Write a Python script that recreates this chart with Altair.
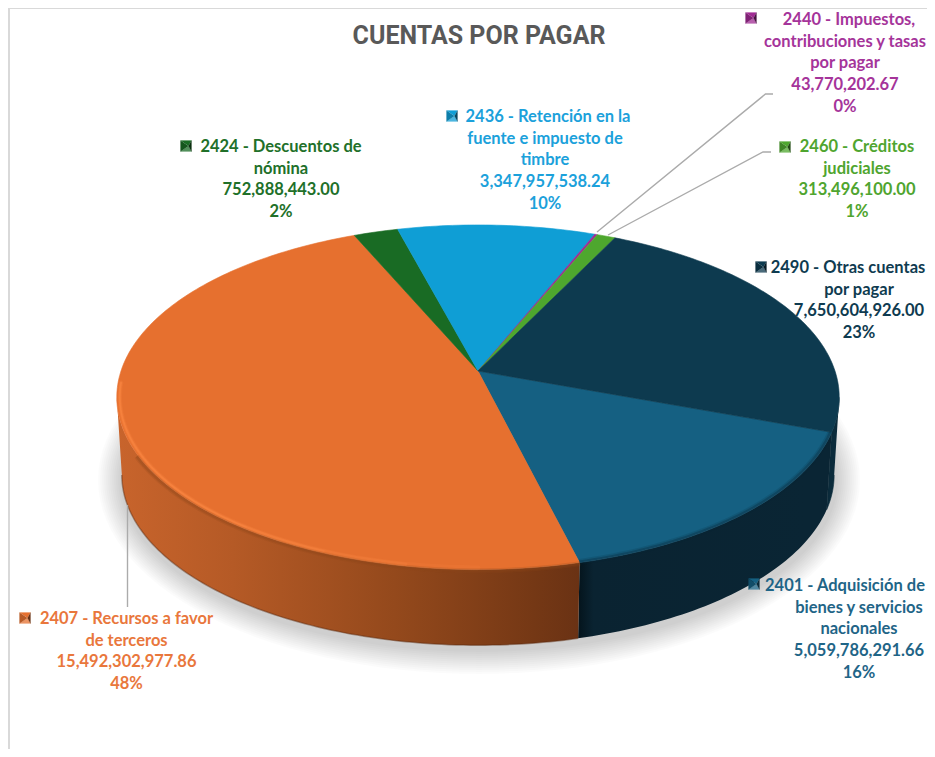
import math
import altair as alt
import pandas as pd

W, H = 919, 741
TITLE = "CUENTAS POR PAGAR"

# --- chart values, in the order the slices are drawn clockwise
codes = ["2401", "2407", "2424", "2436", "2440", "2460", "2490"]
amounts = [5059786291.66, 15492302977.86, 752888443.00, 3347957538.24,
           43770202.67, 313496100.00, 7650604926.00]
amount_text = ["5,059,786,291.66", "15,492,302,977.86", "752,888,443.00", "3,347,957,538.24",
               "43,770,202.67", "313,496,100.00", "7,650,604,926.00"]
percent_text = ["16%", "48%", "2%", "10%", "0%", "1%", "23%"]
names = [
    ["2401 - Adquisición de", "bienes y servicios", "nacionales"],
    ["2407 - Recursos a favor", "de terceros"],
    ["2424 - Descuentos de", "nómina"],
    ["2436 - Retención en la", "fuente e impuesto de", "timbre"],
    ["2440 - Impuestos,", "contribuciones y tasas", "por pagar"],
    ["2460 - Créditos", "judiciales"],
    ["2490 - Otras cuentas", "por pagar"],
]
top_colors = ["#156082", "#E6702F", "#196B24", "#0F9ED5", "#A02B93", "#4EA72E", "#0D3A4F"]
text_colors = ["#1F6587", "#E9773C", "#217029", "#1BA1DB", "#A5349A", "#4FA52F", "#0F3B50"]

# --- layout of the drawing (pixels on the page)
label_x = [859, 126.5, 281, 545, 845, 857, 859]
first_line_shift = [-14, 0, 0, 3, 4, 0, -11]
label_y = [586, 619, 147, 117, 20, 147, 268]
key_x = [754, 25, 186, 452, 751, 785, 761]
key_y = [584, 618, 146, 116, 18, 147, 267]
LINE_H = 21.7
START = 20.2
HUB = (478, 371)
K = 0.1524
TANGENT = math.degrees(math.asin(K))
TOP = dict(R=357, S=168.3, hy=371)
BOT = dict(R=352, S=166.3, hy=449)


def rim(angle, p=TOP, r=1.0):
    a = math.radians(angle)
    u, v = r * math.cos(a), r * math.sin(a)
    d = 1 - K * v
    return HUB[0] + p["R"] * u / d, p["hy"] + p["S"] * v / d


def frange(a, b, step=1.0):
    n = max(2, int(abs(b - a) / step) + 1)
    return [a + (b - a) * i / (n - 1) for i in range(n)]


X = alt.X("x:Q", axis=None, scale=alt.Scale(domain=[8, 8 + W], range=[0, W], nice=False, zero=False))
Y = alt.Y("y:Q", axis=None, scale=alt.Scale(domain=[8, 8 + H], range=[0, H], nice=False, zero=False))


def poly(points, **mark):
    df = pd.DataFrame({"x": [p[0] for p in points], "y": [p[1] for p in points],
                       "o": list(range(len(points)))})
    return alt.Chart(df).mark_line(interpolate="linear", **mark).encode(
        x=X, y=Y, order=alt.Order("o:Q"))


def filled(points, fill, **extra):
    args = dict(fill=fill, stroke=fill if isinstance(fill, str) else None, strokeWidth=0.6)
    if not isinstance(fill, str):
        args.pop("stroke")
        args["strokeWidth"] = 0
    args.update(extra)
    return poly(points, **args)


def grad(*stops):
    return alt.LinearGradient(
        gradient="linear", x1=0, x2=1, y1=0, y2=0,
        stops=[alt.GradientStop(color=c, offset=o) for o, c in stops])


def shade(hex_color, f):
    rgb = [int(hex_color[i:i + 2], 16) for i in (1, 3, 5)]
    if f <= 1:
        rgb = [round(c * f) for c in rgb]
    else:
        rgb = [round(c + (255 - c) * (f - 1)) for c in rgb]
    return "#%02x%02x%02x" % tuple(rgb)


# slice angles come from the amounts
total = sum(amounts)
edges = [START]
for v in amounts:
    edges.append(edges[-1] + v / total * 360)

layers = []

# frame
layers.append(poly([(9, 8), (9, 8 + H)], stroke="#D9D9D9", strokeWidth=2))
layers.append(poly([(9, 8), (8 + W, 8)], stroke="#D9D9D9", strokeWidth=2))

# soft shadow
for i in range(12, 0, -1):
    pts = [(479 + (357 + 2 * i) * math.cos(math.radians(t)),
            480 + (170 + 2 * i) * math.sin(math.radians(t))) for t in range(0, 360, 3)]
    layers.append(poly(pts, fill="#000000", strokeWidth=0, opacity=0.017))


def wall(a0, a1):
    up = [rim(t, TOP) for t in frange(a0, a1)]
    down = [rim(t, BOT) for t in frange(a1, a0)]
    return up + down


# side walls (only the part that faces the viewer)
layers.append(filled(wall(TANGENT, edges[0]), "#0B2B3B"))
layers.append(filled(wall(edges[0], edges[1]),
                     grad((0, "#04141C"), (0.06, "#0A2331"), (0.9, "#0A2534"), (1, "#0A2534"))))
layers.append(filled(wall(edges[1], 180 - TANGENT),
                     grad((0, "#C8642C"), (0.25, "#B55A26"), (0.6, "#94491C"), (0.9, "#753815"), (1, "#6A3214"))))
layers.append(poly([rim(t, BOT) for t in frange(edges[1], 180 - TANGENT)],
                   stroke="#5A2A10", strokeWidth=1.5, opacity=0.45))

# top surface
for i, c in enumerate(top_colors):
    pts = [HUB] + [rim(t) for t in frange(edges[i], edges[i + 1])] + [HUB]
    layers.append(filled(pts, c))

# soft shading just below the front rim
for w, op in ((5, 0.2), (2.5, 0.3)):
    layers.append(poly([rim(t, r=1.005) for t in frange(edges[1], 152)],
                       stroke="#8A4519", strokeWidth=w, opacity=op))

# bevel along the front rim, fading out towards the right
for a0, w, op in ((90, 5, 0.12), (100, 3.5, 0.2), (112, 2.2, 0.3), (125, 1.4, 0.3)):
    layers.append(poly([rim(t, r=0.992) for t in frange(a0, 176)],
                       stroke="#FF8A47", strokeWidth=w, opacity=op, strokeCap="round"))
for w, op in ((6, 0.15), (3, 0.3)):
    layers.append(poly([rim(t, r=0.997) for t in frange(edges[0], edges[1])],
                       stroke="#0A2534", strokeWidth=w, opacity=op))

# leader lines
for line in ([(597, 232), (765.5, 94), (773, 94)],
             [(608, 235), (763, 152), (771, 152)],
             [(127.5, 505), (127.5, 607)]):
    layers.append(poly(line, stroke="#ABABAB", strokeWidth=1.4))

# label keys: small bevelled squares
for kx, ky, c in zip(key_x, key_y, top_colors):
    s, ax = 5.5, kx + 2.5
    tl, tr, br, bl, apex = (kx - s, ky - s), (kx + s, ky - s), (kx + s, ky + s), (kx - s, ky + s), (ax, ky)
    layers.append(filled([tl, tr, apex], shade(c, 1.0), strokeWidth=0.2))
    layers.append(filled([bl, br, apex], shade(c, 1.25), strokeWidth=0.2))
    layers.append(filled([tl, bl, apex], shade(c, 0.8), strokeWidth=0.2))
    layers.append(filled([tr, br, apex], shade(c, 0.45), strokeWidth=0.2))

# data labels
rows = []
for i in range(len(codes)):
    lines = names[i] + [amount_text[i], percent_text[i]]
    for j, t in enumerate(lines):
        rows.append({"x": label_x[i] + (first_line_shift[i] if j == 0 else 0),
                     "y": label_y[i] + j * LINE_H, "t": t, "c": text_colors[i]})
labels = alt.Chart(pd.DataFrame(rows)).mark_text(
    font="Lato", fontWeight="bold", fontSize=16.5, align="center", baseline="middle"
).encode(x=X, y=Y, text="t:N", color=alt.Color("c:N", scale=None))
layers.append(labels)

title = alt.Chart(pd.DataFrame([{"x": 479, "y": 36, "t": TITLE}])).mark_text(
    font="Roboto", fontWeight="bold", fontSize=25, align="center", baseline="middle", color="#595959"
).encode(x=X, y=Y, text="t:N")
layers.append(title)

chart = alt.layer(*layers).properties(
    width=W, height=H, padding=0, autosize=alt.AutoSizeParams(type="none")
).configure_view(stroke=None).resolve_scale(x="shared", y="shared")

chart.save("out.html", embed_options={"renderer": "svg", "actions": False})
